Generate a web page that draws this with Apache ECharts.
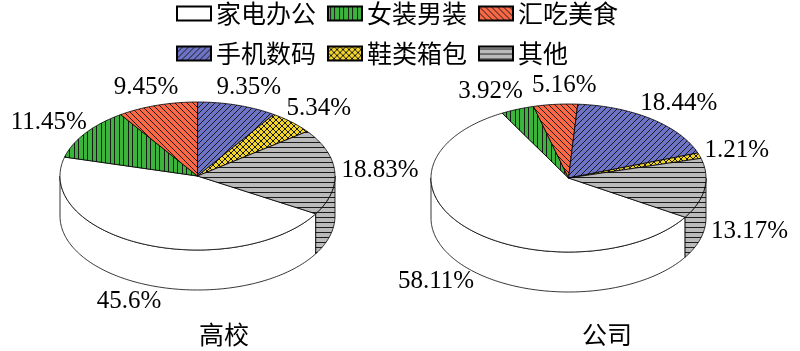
<!DOCTYPE html>
<html>
<head>
<meta charset="utf-8">
<script src="https://cdn.jsdelivr.net/npm/echarts/dist/echarts.min.js"></script>
<style>
  html, body { margin: 0; padding: 0; background: #fff; }
  #chart { width: 800px; height: 351px; }
</style>
</head>
<body>
<div id="chart"></div>
<script>
// data
const categories = ['家电办公', '女装男装', '汇吃美食', '手机数码', '鞋类箱包', '其他'];
const pieNames = ['高校', '公司'];
const schoolValues = [45.6, 11.45, 9.45, 9.35, 5.34, 18.83];
const companyValues = [58.11, 3.92, 5.16, 18.44, 1.21, 13.17];

// layout of the two tilted pies
const pies = [
  { cx: 197.5, cy: 176, firstAngle: 120.7 },  // first slice angle, clockwise from 12 o'clock
  { cx: 568.5, cy: 178, firstAngle: 122 }
];
const RX = 137.5, RY = 74, DEPTH = 40;
const labelFont = '25px "Liberation Serif", "Noto Sans CJK SC", serif';
const cjkFont = '"Noto Sans CJK SC", sans-serif';

// hatch fills
function makePattern(size, bg, draw) {
  const c = document.createElement('canvas');
  c.width = size; c.height = size;
  const ctx = c.getContext('2d');
  ctx.fillStyle = bg;
  ctx.fillRect(0, 0, size, size);
  ctx.strokeStyle = '#1a1a1a';
  ctx.fillStyle = '#1a1a1a';
  ctx.lineWidth = 1;
  draw(ctx, size);
  return { image: c, repeat: 'repeat' };
}
function back(ctx, s) { // "\"
  ctx.beginPath();
  ctx.moveTo(0, 0); ctx.lineTo(s, s);
  ctx.moveTo(-1, s - 1); ctx.lineTo(1, s + 1);
  ctx.moveTo(s - 1, -1); ctx.lineTo(s + 1, 1);
  ctx.stroke();
}
function fwd(ctx, s) { // "/"
  ctx.beginPath();
  ctx.moveTo(0, s); ctx.lineTo(s, 0);
  ctx.moveTo(-1, 1); ctx.lineTo(1, -1);
  ctx.moveTo(s - 1, s + 1); ctx.lineTo(s + 1, s - 1);
  ctx.stroke();
}
const fills = [
  '#ffffff',
  makePattern(9, '#3cb43c', (ctx, s) => { ctx.fillRect(2, 0, 1, s); ctx.fillRect(6, 0, 1, s); }),
  makePattern(6, '#fa6846', back),
  makePattern(6, '#6d73c6', fwd),
  makePattern(6, '#f4d52c', (ctx, s) => { back(ctx, s); fwd(ctx, s); }),
  makePattern(5, '#bababa', (ctx, s) => { ctx.fillRect(0, 2, s, 1); })
];

const measureCtx = document.createElement('canvas').getContext('2d');
measureCtx.font = labelFont;

function slicePoint(p, a, dy) {
  const r = a * Math.PI / 180;
  return [p.cx + RX * Math.sin(r), p.cy - RY * Math.cos(r) + (dy || 0)];
}

function sliceAngles(values, p, i) {
  const total = values.reduce((a, b) => a + b, 0);
  let before = 0;
  for (let k = 0; k < i; k++) before += values[k];
  const a0 = p.firstAngle + before / total * 360;
  return [a0, a0 + values[i] / total * 360];
}

// label positions, pushed apart where neighbours collide
const labelPos = [schoolValues, companyValues].map((values, pi) => {
  const p = pies[pi];
  const boxes = values.map((v, i) => {
    const [a0, a1] = sliceAngles(values, p, i);
    const mid = (a0 + a1) / 2 * Math.PI / 180;
    const s = Math.sin(mid), c = Math.cos(mid);
    const w = measureCtx.measureText(v + '%').width;
    return {
      x: p.cx + RX * s * 1.05 + w / 2 * s,
      y: p.cy - RY * c * 1.12 + (c < 0 ? DEPTH : 0) - 10 * c,
      w: w
    };
  });
  for (let i = 0; i < boxes.length; i++) {
    const b1 = boxes[i], b2 = boxes[(i + 1) % boxes.length];
    if (Math.abs(b1.y - b2.y) > 20) continue;
    const gap = Math.abs(b1.x - b2.x) - (b1.w + b2.w) / 2;
    if (gap < 9) {
      const push = (9 - gap) / 2 * (b1.x < b2.x ? 1 : -1);
      b1.x -= push; b2.x += push;
    }
  }
  return boxes;
});

function makeRender(catIndex) {
  return function (params, api) {
    const pieIndex = params.dataIndex;
    const values = pieIndex === 0 ? schoolValues : companyValues;
    const p = pies[pieIndex];
    const [a0, a1] = sliceAngles(values, p, catIndex);
    const style = { fill: fills[catIndex], stroke: '#000', lineWidth: 0.8 };
    const children = [];

    // front side walls
    [[90, 270], [450, 630]].forEach(([f0, f1]) => {
      const s = Math.max(a0, f0), e = Math.min(a1, f1);
      if (e <= s) return;
      const pts = [];
      for (let a = s; a < e; a += 1) pts.push(slicePoint(p, a));
      pts.push(slicePoint(p, e));
      for (let a = e; a > s; a -= 1) pts.push(slicePoint(p, a, DEPTH));
      pts.push(slicePoint(p, s, DEPTH));
      children.push({ type: 'polygon', shape: { points: pts }, style: style });
    });

    // top face
    const top = [[p.cx, p.cy]];
    for (let a = a0; a < a1; a += 1) top.push(slicePoint(p, a));
    top.push(slicePoint(p, a1));
    children.push({ type: 'polygon', shape: { points: top }, style: style });

    // percentage label outside the slice
    const lb = labelPos[pieIndex][catIndex];
    children.push({
      type: 'text',
      x: lb.x, y: lb.y,
      style: { text: api.value(0) + '%', font: labelFont, fill: '#000', align: 'center', verticalAlign: 'middle' }
    });
    return { type: 'group', children: children };
  };
}

const chart = echarts.init(document.getElementById('chart'));
const legendBase = {
  left: 176,
  padding: 0,
  itemWidth: 34,
  itemHeight: 14,
  itemGap: 11,
  icon: 'rect',
  selectedMode: false,
  textStyle: { fontSize: 25, fontFamily: cjkFont, color: '#000', padding: [0, 0, 0, 0] }
};

chart.setOption({
  animation: false,
  legend: [
    Object.assign({ top: 1, data: categories.slice(0, 3) }, legendBase),
    Object.assign({ top: 41, data: categories.slice(3) }, legendBase)
  ],
  graphic: pieNames.map((name, i) => ({
    type: 'text',
    x: [224, 607][i],
    y: 334,
    style: { text: name, font: '25px ' + cjkFont, fill: '#000', align: 'center', verticalAlign: 'middle' }
  })),
  series: categories.map((name, i) => ({
    type: 'custom',
    name: name,
    coordinateSystem: 'none',
    itemStyle: { color: fills[i], borderColor: '#000', borderWidth: 1 },
    renderItem: makeRender(i),
    data: [[schoolValues[i]], [companyValues[i]]]
  }))
});
</script>
</body>
</html>
